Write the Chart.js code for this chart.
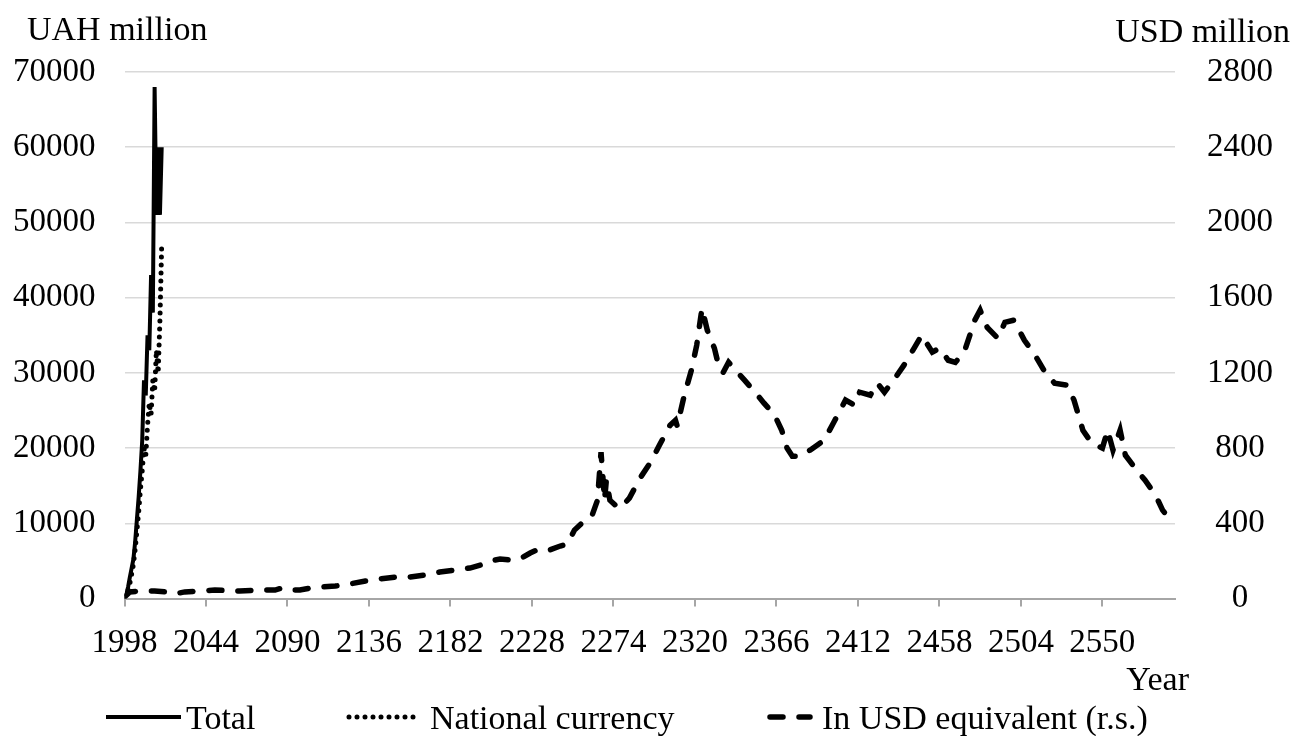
<!DOCTYPE html>
<html>
<head>
<meta charset="utf-8">
<script src="https://cdn.jsdelivr.net/npm/chart.js@4.4.1/dist/chart.umd.min.js"></script>
<style>
  html, body { margin: 0; padding: 0; background: #fff; }
  #wrap { width: 1296px; height: 736px; }
</style>
</head>
<body>
<div id="wrap"><canvas id="chart" width="1296" height="736"></canvas></div>
<script>
// x tick labels (category numbers as printed on the axis)
const xTickLabels = [1998, 2044, 2090, 2136, 2182, 2228, 2274, 2320, 2366, 2412, 2458, 2504, 2550];

// Total, UAH million (left scale)
const totalX = [1998, 1999, 2000, 2001, 2002, 2003, 2004, 2005, 2006, 2007, 2008,
                2009, 2010, 2011, 2012, 2013, 2014, 2015, 2016, 2017, 2018, 2019];
const totalY = [300, 500, 1500, 2800, 4000, 5200, 7500, 10500, 13500, 17000, 21000,
                29000, 27000, 35000, 33000, 43000, 38000, 68000, 51000, 60000, 51000, 60000];

// National currency, UAH million (left scale)
const nationalX = totalX;
const nationalY = [200, 500, 1100, 2000, 3200, 4500, 6500, 9000, 11500, 14500, 17000,
                   20000, 19000, 23000, 26000, 24500, 29000, 27500, 33000, 30000, 37000, 47000];

// In USD equivalent, USD million (right scale)
const usdX = [1998, 2001, 2007, 2015, 2021, 2026, 2032, 2041, 2049, 2063,
              2074, 2083, 2087, 2091, 2097, 2103, 2108, 2117, 2125, 2134,
              2142, 2151, 2159, 2168, 2176, 2184, 2193, 2199, 2204, 2210,
              2216, 2221, 2227, 2232, 2238, 2244, 2248, 2252, 2258, 2262,
              2265, 2267, 2269, 2270, 2272, 2275, 2278, 2283, 2289, 2295,
              2300, 2306, 2309, 2310, 2314, 2318, 2321, 2324, 2327, 2331,
              2334, 2336, 2339, 2343, 2348, 2354, 2359, 2365, 2369, 2372,
              2375, 2379, 2385, 2393, 2399, 2405, 2410, 2413, 2419, 2423,
              2427, 2433, 2438, 2444, 2448, 2454, 2458, 2463, 2467, 2472,
              2478, 2481, 2485, 2491, 2495, 2500, 2506, 2512, 2517, 2523,
              2530, 2534, 2539, 2544, 2550, 2553, 2556, 2560, 2563, 2568,
              2574, 2580, 2584, 2587, 2590];
const usdY = [8, 35, 40, 40, 35, 24, 35, 40, 45, 40,
              45, 45, 56, 45, 45, 56, 61, 66, 77, 93,
              104, 114, 114, 125, 141, 151, 162, 178, 199, 210,
              205, 210, 242, 263, 258, 279, 290, 364, 417, 444,
              523, 778, 523, 630, 523, 497, 481, 534, 640, 725,
              816, 922, 948, 917, 1081, 1214, 1347, 1543, 1426, 1331,
              1214, 1203, 1256, 1214, 1161, 1097, 1039, 975, 895, 800,
              757, 757, 789, 842, 948, 1055, 1028, 1097, 1081, 1145,
              1097, 1172, 1241, 1336, 1400, 1310, 1331, 1267, 1256, 1310,
              1480, 1533, 1442, 1384, 1469, 1480, 1373, 1294, 1214, 1145,
              1135, 1055, 895, 826, 800, 895, 789, 895, 762, 699,
              630, 550, 470, 433, 423];

const FONT_FAMILY = '"Liberation Serif", "Times New Roman", serif';
const TICK_SIZE = 33;
const TEXT_SIZE = 34;

const toPoints = (xs, ys) => xs.map((x, i) => ({ x: x, y: ys[i] }));

// where the hand-drawn legend goes (Excel style spacing)
const legendLayout = [
    { x1: 106, x2: 181, textX: 186 },
    { x1: 349, x2: 418, textX: 430 },
    { x1: 770, x2: 810, textX: 822 }
];

const extraText = {
    id: 'extraText',
    afterDraw(chart) {
        const ctx = chart.ctx;
        ctx.save();
        ctx.font = TEXT_SIZE + 'px ' + FONT_FAMILY;
        ctx.fillStyle = '#000';
        ctx.textBaseline = 'alphabetic';

        ctx.textAlign = 'left';
        ctx.fillText('UAH million', 27, 40);
        ctx.textAlign = 'right';
        ctx.fillText('USD million', 1290, 42);
        ctx.fillText('Year', 1189, 690);

        const lineY = 717;
        chart.data.datasets.forEach((ds, i) => {
            const item = legendLayout[i];
            ctx.beginPath();
            ctx.strokeStyle = ds.borderColor;
            ctx.lineWidth = ds.borderWidth;
            ctx.lineCap = ds.borderCapStyle || 'butt';
            ctx.setLineDash(ds.borderDash || []);
            ctx.moveTo(item.x1, lineY);
            ctx.lineTo(item.x2, lineY);
            ctx.stroke();
            ctx.setLineDash([]);
            ctx.textAlign = 'left';
            ctx.fillText(ds.label, item.textX, 729);
        });
        ctx.restore();
    }
};

Chart.defaults.font.family = FONT_FAMILY;
Chart.defaults.font.size = TICK_SIZE;
Chart.defaults.color = '#000';

const ctx = document.getElementById('chart').getContext('2d');
new Chart(ctx, {
    type: 'line',
    data: {
        datasets: [{
            label: 'Total',
            data: toPoints(totalX, totalY),
            borderColor: '#000',
            borderWidth: 4,
            pointRadius: 0,
            tension: 0,
            yAxisID: 'y'
        }, {
            label: 'National currency',
            data: toPoints(nationalX, nationalY),
            borderColor: '#000',
            borderWidth: 5,
            borderDash: [0, 8],
            borderCapStyle: 'round',
            pointRadius: 0,
            tension: 0,
            yAxisID: 'y'
        }, {
            label: 'In USD equivalent (r.s.)',
            data: toPoints(usdX, usdY),
            borderColor: '#000',
            borderWidth: 5.5,
            borderDash: [13, 16],
            borderCapStyle: 'round',
            pointRadius: 0,
            tension: 0,
            yAxisID: 'y1'
        }]
    },
    options: {
        responsive: false,
        animation: false,
        layout: { padding: { top: 72, left: 0, right: 0, bottom: 67.5 } },
        plugins: {
            legend: { display: false },
            tooltip: { enabled: false }
        },
        scales: {
            x: {
                type: 'linear',
                min: 1998,
                max: 2591,
                afterBuildTicks: (scale) => {
                    scale.ticks = xTickLabels.map(v => ({ value: v }));
                },
                afterFit: (scale) => { scale.height = 70; },
                ticks: {
                    padding: 17,
                    maxRotation: 0,
                    autoSkip: false,
                    callback: (v) => String(v)
                },
                grid: {
                    drawOnChartArea: false,
                    tickLength: 8,
                    color: '#a6a6a6',
                    lineWidth: 2
                },
                border: { color: '#a6a6a6', width: 2 }
            },
            y: {
                position: 'left',
                min: 0,
                max: 70000,
                afterFit: (scale) => { scale.width = 124.5; },
                ticks: {
                    stepSize: 10000,
                    padding: 29,
                    callback: (v) => String(v)
                },
                grid: { color: '#d9d9d9', lineWidth: 1.5, drawTicks: false },
                border: { display: false }
            },
            y1: {
                position: 'right',
                min: 0,
                max: 2800,
                afterFit: (scale) => { scale.width = 121; },
                ticks: {
                    stepSize: 400,
                    padding: 32,
                    crossAlign: 'center',
                    callback: (v) => String(v)
                },
                grid: { drawOnChartArea: false, drawTicks: false },
                border: { display: false }
            }
        }
    },
    plugins: [extraText]
});
</script>
</body>
</html>
